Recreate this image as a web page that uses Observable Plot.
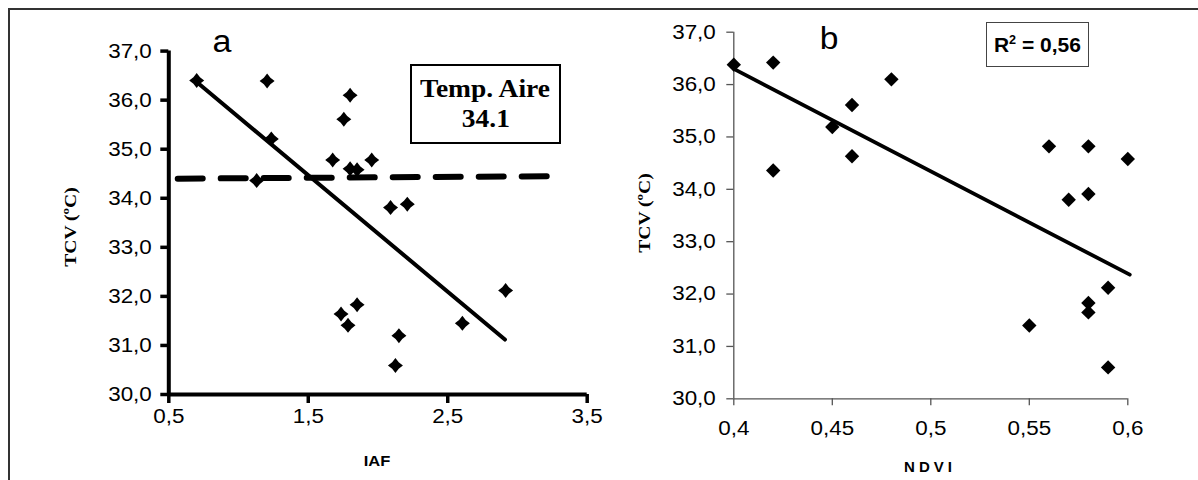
<!DOCTYPE html>
<html>
<head>
<meta charset="utf-8">
<script src="https://cdn.jsdelivr.net/npm/d3@7"></script>
<script src="https://cdn.jsdelivr.net/npm/@observablehq/plot@0.6"></script>
<style>
  body { margin: 0; background: #fff; }
  #root { position: relative; width: 1198px; height: 480px; overflow: hidden; font-family: "Liberation Sans", Arial, sans-serif; color: #000; }
  .ov { position: absolute; white-space: nowrap; line-height: 1; }
</style>
</head>
<body>
<div id="root">
  <div style="position:absolute;left:8px;top:8px;width:1400px;height:700px;border-top:2px solid #333;border-left:2px solid #333;"></div>
  <div id="pa" style="position:absolute;left:0;top:0;"></div>
  <div id="pb" style="position:absolute;left:600px;top:0;"></div>
</div>
<script>
// ---- Panel a: IAF vs TCV ----
const iafA = [0.70, 1.205, 1.235, 1.13, 1.80, 1.755, 1.675, 1.80, 1.85, 1.955, 2.09, 2.21, 1.735, 1.785, 1.85, 2.15, 2.125, 2.605, 2.915];
const tcvA = [36.40, 36.39, 35.21, 34.36, 36.10, 35.61, 34.78, 34.60, 34.58, 34.78, 33.81, 33.88, 31.64, 31.41, 31.83, 31.20, 30.59, 31.45, 32.12];
const trendAx = [0.70, 2.91];
const trendAy = [36.37, 31.12];
const airAx = [0.564, 3.244];
const airAy = [34.40, 34.45];
const xTicksA = [0.5, 1.5, 2.5, 3.5];

// ---- Panel b: NDVI vs TCV ----
const ndviB = [0.40, 0.42, 0.42, 0.45, 0.46, 0.46, 0.48, 0.55, 0.56, 0.57, 0.58, 0.58, 0.58, 0.58, 0.59, 0.59, 0.60];
const tcvB = [36.38, 36.42, 34.36, 35.19, 35.61, 34.63, 36.10, 31.40, 34.82, 33.80, 34.82, 33.91, 31.83, 31.65, 32.12, 30.60, 34.58];
const trendBx = [0.40, 0.601];
const trendBy = [36.30, 32.37];
const xTicksB = [0.4, 0.45, 0.5, 0.55, 0.6];

const yTicks = [30, 31, 32, 33, 34, 35, 36, 37];

const comma = d => String(d).replace(".", ",");
const fmtY = d => d.toFixed(1).replace(".", ",");

const star4 = { draw(ctx, size) { const r = Math.sqrt(size / Math.PI); const k = r * 0.44;
  ctx.moveTo(0, -r); ctx.lineTo(k, -k); ctx.lineTo(r, 0); ctx.lineTo(k, k);
  ctx.lineTo(0, r); ctx.lineTo(-k, k); ctx.lineTo(-r, 0); ctx.lineTo(-k, -k); ctx.closePath(); } };
const diamond = { draw(ctx, size) { const r = Math.sqrt(size / Math.PI);
  ctx.moveTo(0, -r); ctx.lineTo(r, 0); ctx.lineTo(0, r); ctx.lineTo(-r, 0); ctx.closePath(); } };

const ptsA = iafA.map((x, i) => ({x, y: tcvA[i]}));
const ptsB = ndviB.map((x, i) => ({x, y: tcvB[i]}));
const lineA = trendAx.map((x, i) => ({x, y: trendAy[i]}));
const airA = airAx.map((x, i) => ({x, y: airAy[i]}));
const lineB = trendBx.map((x, i) => ({x, y: trendBy[i]}));

const commonStyle = {background: "transparent", overflow: "visible", fontFamily: "'Liberation Sans', Arial, sans-serif", color: "#000"};

const plotA = Plot.plot({
  width: 600, height: 480,
  marginLeft: 168.3, marginRight: 13.3, marginTop: 50.6, marginBottom: 86,
  style: commonStyle,
  x: {domain: [0.5, 3.5]},
  y: {domain: [30, 37]},
  marks: [
    Plot.axisY({ticks: yTicks, tickFormat: fmtY, tickSize: 8, tickPadding: 9, strokeWidth: 3.5, fontSize: 20, label: null, stroke: "#000"}),
    Plot.axisX({ticks: xTicksA, tickFormat: comma, tickSize: 9, tickPadding: 5, strokeWidth: 3.5, fontSize: 20, label: null, stroke: "#000"}),
    Plot.ruleX([0.5], {y1: 30, y2: 37, stroke: "#000", strokeWidth: 4}),
    Plot.ruleY([30], {x1: 0.5, x2: 3.5, stroke: "#000", strokeWidth: 4}),
    Plot.line(airA, {x: "x", y: "y", stroke: "#000", strokeWidth: 6, strokeDasharray: "25 18"}),
    Plot.line(lineA, {x: "x", y: "y", stroke: "#000", strokeWidth: 4}),
    Plot.dot(ptsA, {x: "x", y: "y", symbol: star4, r: 7.5, fill: "#000", stroke: "none"})
  ]
});

const plotB = Plot.plot({
  width: 598, height: 480,
  marginLeft: 133.3, marginRight: 70.7, marginTop: 31.7, marginBottom: 81.7,
  style: commonStyle,
  x: {domain: [0.4, 0.6]},
  y: {domain: [30, 37]},
  marks: [
    Plot.axisY({ticks: yTicks, tickFormat: fmtY, tickSize: 7, tickPadding: 11, strokeWidth: 1.3, fontSize: 20, label: null, stroke: "#555"}),
    Plot.axisX({ticks: xTicksB, tickFormat: comma, tickSize: 7, tickPadding: 15, strokeWidth: 1.3, fontSize: 20, label: null, stroke: "#555"}),
    Plot.ruleX([0.4], {y1: 30, y2: 37, stroke: "#555", strokeWidth: 1.3}),
    Plot.ruleY([30], {x1: 0.4, x2: 0.6, stroke: "#555", strokeWidth: 1.3}),
    Plot.line(lineB, {x: "x", y: "y", stroke: "#000", strokeWidth: 3.8}),
    Plot.dot(ptsB, {x: "x", y: "y", symbol: diamond, r: 7.2, fill: "#000", stroke: "none"})
  ]
});

document.getElementById("pa").appendChild(plotA);
document.getElementById("pb").appendChild(plotB);

// widen tick labels slightly (the reference glyphs are horizontally stretched)
for (const svg of [plotA, plotB]) {
  svg.querySelectorAll("g[aria-label$='tick label'] text").forEach(t => {
    const len = t.getComputedTextLength();
    t.setAttribute("textLength", (len * 1.12).toFixed(1));
    t.setAttribute("lengthAdjust", "spacingAndGlyphs");
  });
}

// ---- annotations ----
const root = document.getElementById("root");
function label(html, x, y, css, sx = 1, rot = 0) {
  const d = document.createElement("div");
  d.className = "ov";
  d.innerHTML = html;
  d.style.cssText += css;
  d.style.left = x + "px"; d.style.top = y + "px";
  d.style.transform = `translate(-50%,-50%) rotate(${rot}deg) scaleX(${sx})`;
  root.appendChild(d);
  return d;
}
label("a", 222, 41, "font-size:31px;", 1.1);
label("b", 829, 38, "font-size:32px;", 1.05);
label("TCV (ºC)", 70, 227, "font-family:'Liberation Serif',serif;font-weight:bold;font-size:17px;", 1.15, -90);
label("TCV (ºC)", 644, 213, "font-family:'Liberation Serif',serif;font-weight:bold;font-size:17px;", 1.15, -90);
label("IAF", 377, 460, "font-weight:bold;font-size:15px;", 1.1);
label("NDVI", 930, 466, "font-weight:bold;font-size:15px;letter-spacing:4px;");

const boxA = document.createElement("div");
boxA.style.cssText = "position:absolute;left:410px;top:64px;width:151px;height:80px;box-sizing:border-box;border:2px solid #000;background:#fff;display:flex;flex-direction:column;align-items:center;justify-content:center;font-family:'Liberation Serif',serif;font-weight:bold;font-size:25px;line-height:30px;";
boxA.innerHTML = "<div style='transform:scaleX(1.1)'>Temp. Aire</div><div style='transform:scaleX(1.1)'>34.1</div>";
root.appendChild(boxA);

const boxB = document.createElement("div");
boxB.style.cssText = "position:absolute;left:986px;top:22px;width:103px;height:45px;box-sizing:border-box;border:1.5px solid #444;background:#fff;display:flex;align-items:center;justify-content:center;font-weight:bold;font-size:20px;";
boxB.innerHTML = "<span style='transform:scaleX(1.05);display:inline-block'>R<sup style='font-size:12px;vertical-align:8px'>2</sup> = 0,56</span>";
root.appendChild(boxB);
</script>
</body>
</html>
